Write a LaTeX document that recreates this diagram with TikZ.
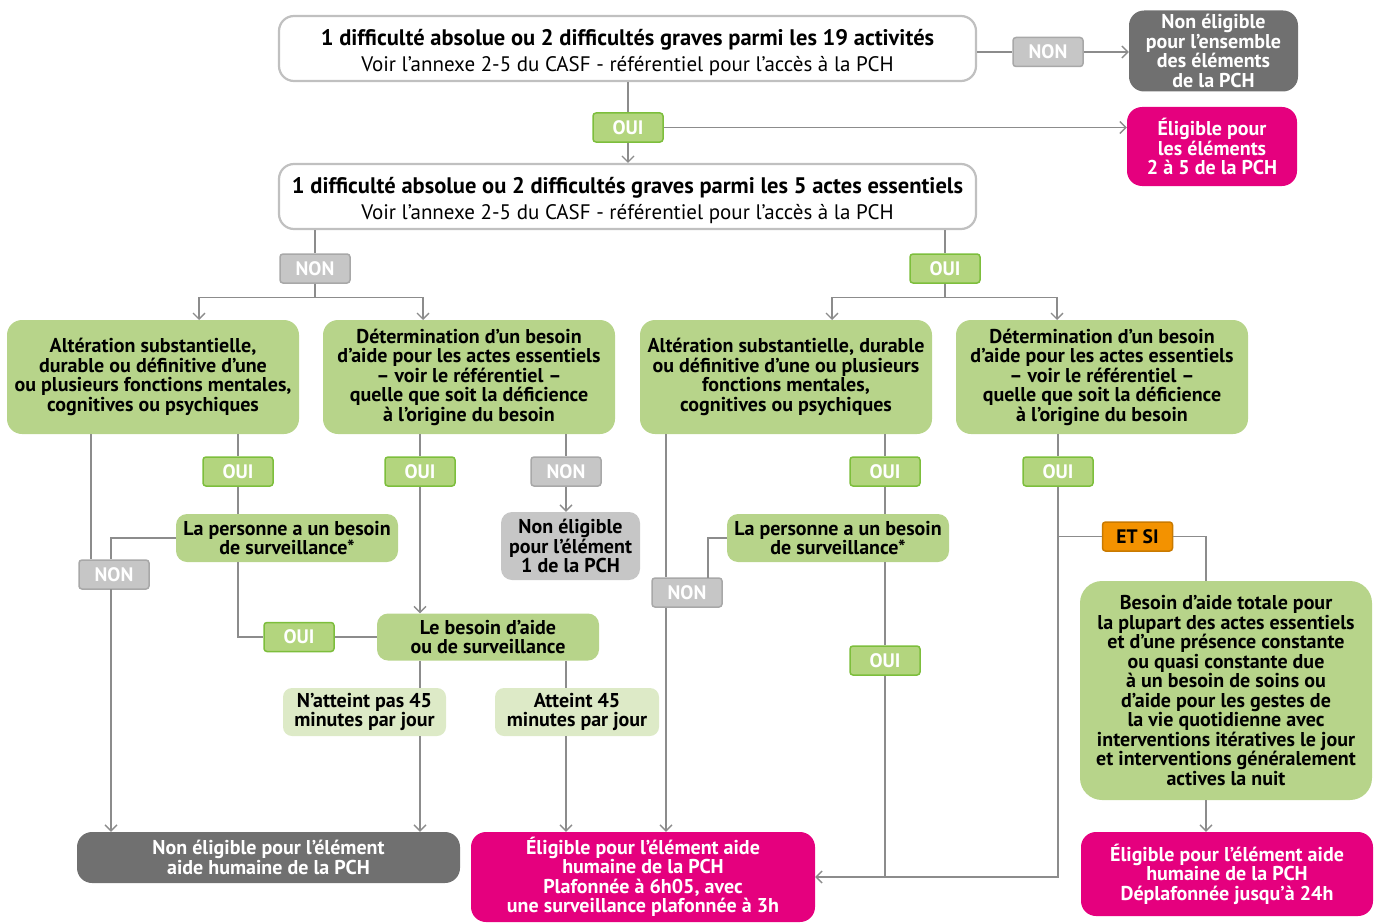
\documentclass[tikz,border=0pt]{standalone}
\usepackage{fontspec}
\setmainfont{PT Sans}
\usetikzlibrary{arrows.meta}
\definecolor{GreenClr}{HTML}{B7D48A}
\definecolor{PaleClr}{HTML}{DDEAC7}
\definecolor{YesClr}{HTML}{B3D57E}
\definecolor{YesLineClr}{HTML}{7DBE3C}
\definecolor{NoClr}{HTML}{C6C6C6}
\definecolor{NoLineClr}{HTML}{A8A8A8}
\definecolor{DarkClr}{HTML}{707070}
\definecolor{PinkClr}{HTML}{E5007E}
\definecolor{OrangeClr}{HTML}{F39200}
\definecolor{OrangeLineClr}{HTML}{C97A00}
\definecolor{WireClr}{HTML}{8C8C8C}
\definecolor{FrameClr}{HTML}{C0C0C0}

\begin{document}
\begin{tikzpicture}[x=1pt,y=-1pt,
  Wire/.style={draw=WireClr,line width=1.3pt},
  Arrow/.style={Wire,-{Straight Barb[length=6pt,width=12pt]}},
  Box/.style={rounded corners=15pt,align=center,inner sep=0pt,
    font=\fontsize{20}{19.5}\selectfont\bfseries},
  WhiteBox/.style={Box,draw=FrameClr,line width=2.2pt,fill=white,
    minimum width=697,minimum height=65,font=\fontsize{21}{26}\selectfont},
  GreenBox/.style={Box,fill=GreenClr},
  PaleBox/.style={Box,fill=PaleClr,rounded corners=9pt},
  DarkBox/.style={Box,fill=DarkClr,text=white},
  PinkBox/.style={Box,fill=PinkClr,text=white},
  Tag/.style={rounded corners=3pt,line width=1.5pt,inner sep=0pt,
    minimum width=70,minimum height=29,text=white,
    font=\fontsize{19.5}{18}\selectfont\bfseries},
  TagYes/.style={Tag,fill=YesClr,draw=YesLineClr},
  TagNo/.style={Tag,fill=NoClr,draw=NoLineClr},
  TagAnd/.style={Tag,fill=OrangeClr,draw=OrangeLineClr,text=black}]
\clip (0,0) rectangle (1380,923);

% first question
\node[WhiteBox] (T1) at (627.5,48.5)
  {\rule{0pt}{24pt}{\fontsize{22.5}{26}\selectfont\bfseries 1 difficulté absolue ou 2 difficultés graves parmi les 19 activités}\\
   Voir l’annexe 2-5 du CASF - référentiel pour l’accès à la PCH};
\node[TagNo] (NON1) at (1048,52) {NON};
\node[DarkBox,minimum width=169,minimum height=81] (R1) at (1213.5,51)
  {Non éligible\\pour l’ensemble\\des éléments\\de la PCH};
\node[TagYes] (OUI1) at (628,127.5) {OUI};
\node[PinkBox,minimum width=170,minimum height=79] (R2) at (1212,146.5)
  {Éligible pour\\les éléments\\2 à 5 de la PCH};

% second question
\node[WhiteBox] (T2) at (627.5,196.5)
  {\rule{0pt}{24pt}{\fontsize{22.5}{26}\selectfont\bfseries 1 difficulté absolue ou 2 difficultés graves parmi les 5 actes essentiels}\\
   Voir l’annexe 2-5 du CASF - référentiel pour l’accès à la PCH};
\node[TagNo] (NON2) at (315,268.5) {NON};
\node[TagYes] (OUI2) at (945,268.5) {OUI};

% criteria
\node[GreenBox,minimum width=292,minimum height=114] (G1) at (153,377)
  {Altération substantielle,\\durable ou définitive d’une\\ou plusieurs fonctions mentales,\\cognitives ou psychiques};
\node[GreenBox,minimum width=292,minimum height=114] (G2) at (469,377)
  {Détermination d’un besoin\\d’aide pour les actes essentiels\\– voir le référentiel –\\quelle que soit la déficience\\à l’origine du besoin};
\node[GreenBox,minimum width=292,minimum height=114] (G3) at (786,377)
  {Altération substantielle, durable\\ou définitive d’une ou plusieurs\\fonctions mentales,\\cognitives ou psychiques};
\node[GreenBox,minimum width=292,minimum height=114] (G4) at (1102,377)
  {Détermination d’un besoin\\d’aide pour les actes essentiels\\– voir le référentiel –\\quelle que soit la déficience\\à l’origine du besoin};

\node[TagYes] (OUI3) at (238,471.5) {OUI};
\node[TagYes] (OUI5) at (420,471.5) {OUI};
\node[TagNo] (NON5) at (566,471.5) {NON};
\node[TagYes] (OUI6) at (885,471.5) {OUI};
\node[TagYes] (OUI8) at (1058,471.5) {OUI};

\node[GreenBox,rounded corners=11pt,minimum width=222,minimum height=48] (S1) at (287,538)
  {La personne a un besoin\\de surveillance*};
\node[GreenBox,rounded corners=11pt,minimum width=222,minimum height=48] (S2) at (838,538)
  {La personne a un besoin\\de surveillance*};
\node[Box,fill=NoClr,rounded corners=11pt,minimum width=139,minimum height=68] (NE1) at (570.5,546)
  {Non éligible\\pour l’élément\\1 de la PCH};
\node[TagNo] (NON4) at (114,574.5) {NON};
\node[TagNo] (NON6) at (687,592.5) {NON};
\node[TagAnd] (ETSI) at (1137.5,536.5) {ET SI};

\node[TagYes] (OUI4) at (299,637) {OUI};
\node[GreenBox,rounded corners=11pt,minimum width=222,minimum height=47] (L1) at (488,637)
  {Le besoin d’aide\\ou de surveillance};
\node[TagYes] (OUI7) at (885,660.5) {OUI};
\node[PaleBox,minimum width=163,minimum height=48] (M1) at (364.5,712)
  {N’atteint pas 45\\minutes par jour};
\node[PaleBox,minimum width=164,minimum height=48] (M2) at (577,712)
  {Atteint 45\\minutes par jour};
\node[GreenBox,rounded corners=22pt,minimum width=292,minimum height=219] (BT) at (1226,690.5)
  {Besoin d’aide totale pour\\la plupart des actes essentiels\\et d’une présence constante\\ou quasi constante due\\à un besoin de soins ou\\d’aide pour les gestes de\\la vie quotidienne avec\\interventions itératives le jour\\et interventions généralement\\actives la nuit};

% results
\node[DarkBox,minimum width=383,minimum height=51] (B1) at (268.5,857.5)
  {Non éligible pour l’élément\\aide humaine de la PCH};
\node[PinkBox,minimum width=344,minimum height=90] (P1) at (643,877)
  {Éligible pour l’élément aide\\humaine de la PCH\\Plafonnée à 6h05, avec\\une surveillance plafonnée à 3h};
\node[PinkBox,minimum width=292,minimum height=84] (P2) at (1227,874)
  {Éligible pour l’élément aide\\humaine de la PCH\\Déplafonnée jusqu’à 24h};

% bend points
\coordinate (g1in) at (199,320);
\coordinate (g2in) at (423,320);
\coordinate (g3in) at (832,320);
\coordinate (g4in) at (1057,320);
\coordinate (g1out) at (91,434);
\coordinate (n4out) at (111,589);
\coordinate (g3out) at (666,434);
\coordinate (n6in) at (708,578);
\coordinate (btin) at (1206,581);

% connectors
\draw[Wire] (NON1.west -| T1.east) -- (NON1.west);
\draw[Arrow] (NON1.east) -- (NON1.east -| R1.west);
\draw[Wire] (OUI1 |- T1.south) -- (OUI1.north);
\draw[Arrow] (OUI1.south) -- (OUI1 |- T2.north);
\draw[Arrow] (OUI1.east) -- (OUI1.east -| R2.west);
\draw[Wire] (T2.south -| NON2) -- (NON2.north);
\draw[Arrow] (NON2.south) -- ++(0,14) -| (g1in);
\draw[Arrow] (NON2.south) -- ++(0,14) -| (g2in);
\draw[Wire] (T2.south -| OUI2) -- (OUI2.north);
\draw[Arrow] (OUI2.south) -- ++(0,14) -| (g3in);
\draw[Arrow] (OUI2.south) -- ++(0,14) -| (g4in);

\draw[Wire] (g1out) -- (g1out |- NON4.north);
\draw[Wire] (G1.south -| OUI3) -- (OUI3.north);
\draw[Wire] (OUI3.south) -- (OUI3 |- S1.north);
\draw[Wire] (S1.west) -| (n4out |- NON4.north);
\draw[Arrow] (n4out) -- (n4out |- B1.north);
\draw[Wire] (S1.south -| OUI3) |- (OUI4.west);
\draw[Wire] (OUI4.east) -- (L1.west);
\draw[Wire] (G2.south -| OUI5) -- (OUI5.north);
\draw[Arrow] (OUI5.south) -- (OUI5 |- L1.north);
\draw[Wire] (G2.south -| NON5) -- (NON5.north);
\draw[Arrow] (NON5.south) -- (NON5 |- NE1.north);
\draw[Wire] (L1.south -| OUI5) -- (OUI5 |- M1.north);
\draw[Arrow] (M1.south -| OUI5) -- (OUI5 |- B1.north);
\draw[Wire] (L1.south -| NON5) -- (NON5 |- M2.north);
\draw[Arrow] (M2.south -| NON5) -- (NON5 |- P1.north);

\draw[Wire] (g3out) -- (g3out |- NON6.north);
\draw[Wire] (S2.west) -| (n6in);
\draw[Arrow] (g3out |- NON6.south) -- (g3out |- P1.north);
\draw[Wire] (G3.south -| OUI6) -- (OUI6.north);
\draw[Wire] (OUI6.south) -- (OUI6 |- S2.north);
\draw[Wire] (S2.south -| OUI6) -- (OUI7.north);
\draw[Wire] (OUI7.south) -- (OUI7 |- P1.east);
\draw[Wire] (G4.south -| OUI8) -- (OUI8.north);
\draw[Arrow] (OUI8.south) |- (P1.east);
\draw[Wire] (OUI8 |- ETSI.west) -- (ETSI.west);
\draw[Wire] (ETSI.east) -| (btin);
\draw[Arrow] (btin |- BT.south) -- (btin |- P2.north);
\end{tikzpicture}
\end{document}
